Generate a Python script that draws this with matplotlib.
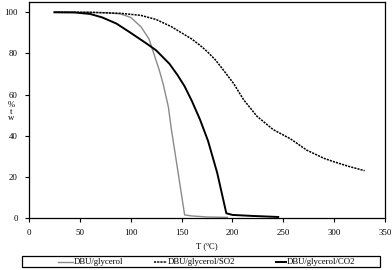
import matplotlib
matplotlib.use("Agg")
import matplotlib.pyplot as plt
from matplotlib.lines import Line2D
from matplotlib.patches import Rectangle

plt.rcParams['font.family'] = ['Liberation Serif', 'DejaVu Serif']

# DBU/glycerol
t_gly = [25, 50, 75, 90, 100, 110, 118, 122, 128, 132, 137, 140, 146, 153, 160, 175, 195]
w_gly = [100, 100, 99.8, 99.2, 97.5, 93, 87, 81, 72, 65, 54, 43, 24, 1.5, 1, 0.5, 0.3]

# DBU/glycerol/SO2
t_so2 = [25, 60, 90, 110, 125, 140, 150, 160, 168, 175, 183, 191, 201, 211, 224, 240, 257, 273, 290, 300, 315, 330]
w_so2 = [100, 100, 99.5, 98.5, 96.5, 93, 90, 87, 84, 81, 77, 72, 65.5, 57.5, 49.5, 43, 38.5, 33, 29, 27.3, 25, 23]

# DBU/glycerol/CO2
t_co2 = [25, 45, 60, 72, 86, 100, 115, 125, 138, 146, 153, 160, 168, 176, 185, 194, 200, 220, 245]
w_co2 = [100, 99.9, 99.2, 97.5, 94.5, 90, 85, 81.5, 75, 69.5, 64, 57, 48, 37.5, 22, 2.3, 1.5, 1, 0.5]

labels = ['DBU/glycerol', 'DBU/glycerol/SO2', 'DBU/glycerol/CO2']
xticks = [0, 50, 100, 150, 200, 250, 300, 350]
yticks = [0, 20, 40, 60, 80, 100]

W, H = 392, 270
fig = plt.figure(figsize=(W/100, H/100), dpi=100)
ax = fig.add_axes([29/W, 1-218/H, (385-29)/W, (218-2)/H])

styles = [dict(color='#8a8a8a', lw=1.0),
          dict(color='black', lw=1.1, dashes=(1.4, 0.7)),
          dict(color='black', lw=1.4)]

ax.plot(t_gly, w_gly, **styles[0])
ax.plot(t_so2, w_so2, **styles[1])
ax.plot(t_co2, w_co2, **styles[2])

ax.set_xlim(0, 350)
ax.set_ylim(0, 105)
ax.set_xticks(xticks)
ax.set_yticks(yticks)
ax.tick_params(direction='out', length=3, width=0.8, labelsize=6.3, pad=5)
for s in ax.spines.values():
    s.set_linewidth(0.9)

fig.text(207/W, 1-246/H, 'T (ºC)', ha='center', va='center', fontsize=6.3)
fig.text(11/W, 1-112/H, '%\nt\nw', ha='center', va='center', fontsize=6.3, linespacing=0.75)

# legend box drawn manually
fig.patches.append(Rectangle((22/W, 1-267/H), (380-22)/W, (267-256)/H,
                             transform=fig.transFigure, fill=False,
                             edgecolor='black', lw=0.9))
ly = 1-261.5/H
handles_x = [(58, 73), (154, 167), (276, 286)]
for (x0, x1), st, lab in zip(handles_x, styles, labels):
    fig.lines.append(Line2D([x0/W, x1/W], [ly, ly], transform=fig.transFigure, **st))
    fig.text((x1+1)/W, ly, lab, ha='left', va='center', fontsize=6.3)

fig.savefig('out.png', dpi=100)
